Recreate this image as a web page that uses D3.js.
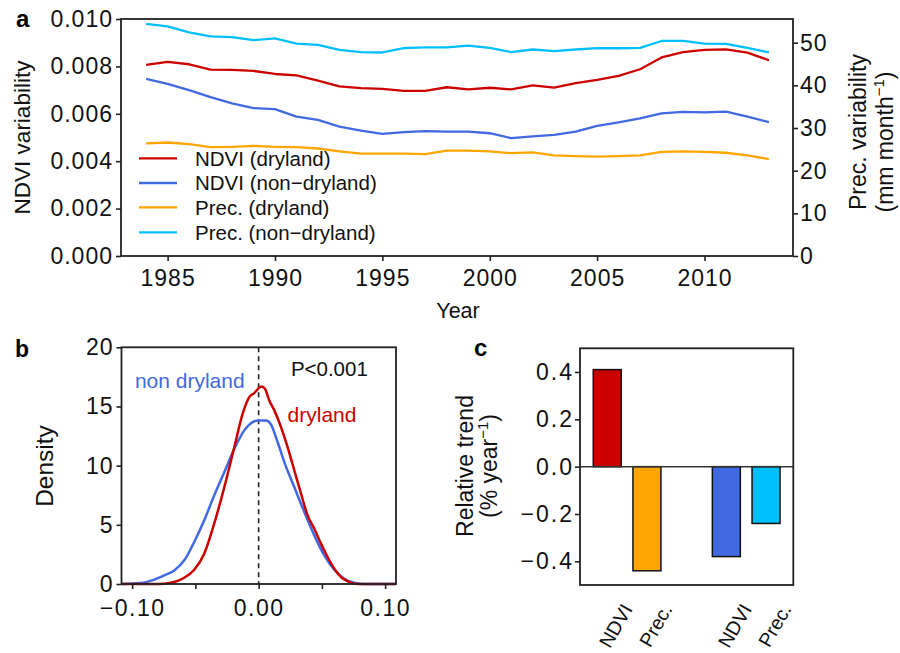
<!DOCTYPE html>
<html>
<head>
<meta charset="utf-8">
<script src="https://cdn.jsdelivr.net/npm/d3@7"></script>
<style>
  html, body { margin: 0; padding: 0; background: #fff; }
  svg { display: block; font-family: "Liberation Sans", Arial, Helvetica, sans-serif; }
  .tick text { fill: #111; }
</style>
</head>
<body>
<svg id="chart" width="900" height="653"></svg>
<script>
// ---------------- DATA ----------------
// Panel a
const years = [1984,1985,1986,1987,1988,1989,1990,1991,1992,1993,1994,1995,1996,1997,1998,1999,2000,2001,2002,2003,2004,2005,2006,2007,2008,2009,2010,2011,2012,2013];
const ndviDryland = [0.00806,0.00819,0.00809,0.00786,0.00785,0.00781,0.00768,0.00762,0.00740,0.00716,0.00708,0.00705,0.00697,0.00697,0.00712,0.00703,0.00710,0.00703,0.00720,0.00710,0.00729,0.00743,0.00760,0.00788,0.00838,0.00860,0.00870,0.00872,0.00858,0.00826];
const ndviNonDryland = [0.00747,0.00726,0.00700,0.00670,0.00644,0.00624,0.00620,0.00588,0.00574,0.00546,0.00529,0.00515,0.00523,0.00527,0.00525,0.00525,0.00518,0.00497,0.00505,0.00511,0.00525,0.00549,0.00564,0.00581,0.00602,0.00608,0.00606,0.00609,0.00588,0.00565];
const precDryland = [26.4,26.6,26.2,25.5,25.6,25.8,25.6,25.5,25.2,24.5,24.0,24.0,24.0,23.9,24.7,24.7,24.5,24.1,24.3,23.6,23.4,23.3,23.4,23.6,24.4,24.5,24.4,24.2,23.6,22.7];
const precNonDryland = [54.4,53.8,52.4,51.5,51.3,50.6,51.0,49.8,49.5,48.3,47.8,47.7,48.7,48.9,48.9,49.3,48.8,47.8,48.4,48.0,48.4,48.7,48.7,48.8,50.4,50.4,49.8,49.7,48.8,47.7];
const legendLabels = ["NDVI (dryland)", "NDVI (non\u2212dryland)", "Prec. (dryland)", "Prec. (non\u2212dryland)"];
const yearTicks = [1985,1990,1995,2000,2005,2010];
const ndviTicks = [0,0.002,0.004,0.006,0.008,0.010];
const precTicks = [0,10,20,30,40,50];

// Panel b (density of trends)
const densNonX = [-0.108,-0.093,-0.0825,-0.0746,-0.0667,-0.0588,-0.0509,-0.043,-0.0351,-0.0271,-0.0192,-0.0113,-0.0047,0.0005,0.0058,0.0097,0.015,0.0203,0.0282,0.0361,0.044,0.0519,0.0598,0.0677,0.0756,0.0835,0.1085];
const densNonY = [0,0.08,0.37,0.73,1.15,2.0,3.55,5.38,7.49,9.46,11.43,12.98,13.68,13.82,13.82,13.49,12.0,10.3,8.19,6.08,4.11,2.42,1.21,0.45,0.11,0,0];
const densDryX = [-0.108,-0.0825,-0.0746,-0.0667,-0.0588,-0.0509,-0.043,-0.0351,-0.0271,-0.0192,-0.0126,-0.0074,-0.0034,-0.0003,0.0024,0.005,0.0084,0.0124,0.0177,0.0229,0.0282,0.0335,0.0387,0.044,0.0493,0.0545,0.0598,0.0651,0.0704,0.0783,0.1085];
const densDryY = [0,0,0.03,0.17,0.53,1.21,2.56,5.1,8.19,11.57,14.39,15.79,16.13,16.5,16.69,16.5,15.51,14.67,13.26,11.57,9.6,7.63,5.8,4.67,3.41,2.28,1.3,0.59,0.23,0,0];
const densXTicks = [-0.10,-0.05,0,0.05,0.10];
const densXLabelled = [-0.10,0,0.10];
const densYTicks = [0,5,10,15,20];

// Panel c (relative trends)
const trendKeys = ["ndviDry","precDry","gap","ndviNon","precNon"];
const trendLabels = ["NDVI","Prec.","","NDVI","Prec."];
const trendValues = [0.41,-0.44,null,-0.38,-0.24];
const trendYTicks = [-0.4,-0.2,0,0.2,0.4];

// ---------------- STYLE ----------------
const C_RED = "#CD0000", C_BLUE = "#4169E1", C_ORANGE = "#FFA500", C_CYAN = "#00BFFF";
const trendColors = [C_RED, C_ORANGE, "none", C_BLUE, C_CYAN];
const FRAME = "#222";
const TICKFONT = 23;

const svg = d3.select("#chart");

function styleAxis(g, ls) {
  g.select(".domain").remove();
  g.selectAll(".tick line").attr("stroke", FRAME).attr("stroke-width", 1.6);
  g.selectAll(".tick text").attr("font-size", TICKFONT).attr("letter-spacing", ls + "px")
    .attr("font-family", "Liberation Sans, Arial, sans-serif");
}
function frame(x0, y0, x1, y1) {
  svg.append("rect").attr("x", x0).attr("y", y0).attr("width", x1 - x0).attr("height", y1 - y0)
    .attr("fill", "none").attr("stroke", FRAME).attr("stroke-width", 1.8);
}
function vtitle(x, y, size) {
  return svg.append("text").attr("transform", `translate(${x},${y}) rotate(-90)`)
    .attr("text-anchor", "middle").attr("font-size", size).attr("fill", "#111");
}

// ---------------- PANEL A ----------------
const A = {l: 121, r: 793, t: 19, b: 256};
const xA = d3.scaleLinear().domain([1982.83, 2014.12]).range([A.l, A.r]);
const yL = d3.scaleLinear().domain([0, 0.010]).range([A.b, A.t]);
const yR = d3.scaleLinear().domain([0, 55.55]).range([A.b, A.t]);

const seriesA = [
  {vals: ndviDryland, scale: yL, color: C_RED},
  {vals: ndviNonDryland, scale: yL, color: C_BLUE},
  {vals: precDryland, scale: yR, color: C_ORANGE},
  {vals: precNonDryland, scale: yR, color: C_CYAN}
];
seriesA.forEach(s => {
  const line = d3.line().x((d, i) => xA(years[i])).y(d => s.scale(d));
  svg.append("path").attr("d", line(s.vals)).attr("fill", "none")
    .attr("stroke", s.color).attr("stroke-width", 2.3).attr("stroke-linejoin", "round");
});

svg.append("g").attr("transform", `translate(${A.l},0)`)
  .call(d3.axisLeft(yL).tickValues(ndviTicks).tickFormat(d3.format(".3f")).tickSize(5).tickPadding(3))
  .call(g => styleAxis(g, 1));
svg.append("g").attr("transform", `translate(${A.r},0)`)
  .call(d3.axisRight(yR).tickValues(precTicks).tickFormat(d3.format("d")).tickSize(5).tickPadding(2))
  .call(g => styleAxis(g, 1));
svg.append("g").attr("transform", `translate(0,${A.b})`)
  .call(d3.axisBottom(xA).tickValues(yearTicks).tickFormat(d3.format("d")).tickSize(5).tickPadding(9))
  .call(g => styleAxis(g, 1));
frame(A.l, A.t, A.r, A.b);

// legend
const legY = [158.3, 183, 207.3, 232.3];
seriesA.forEach((s, i) => {
  svg.append("line").attr("x1", 139).attr("x2", 177).attr("y1", legY[i]).attr("y2", legY[i])
    .attr("stroke", s.color).attr("stroke-width", 2.3);
  svg.append("text").attr("x", 195).attr("y", legY[i]).attr("dy", "0.36em")
    .attr("font-size", 20.5).attr("fill", "#111").text(legendLabels[i]);
});

vtitle(30, 137.5, 22.5).text("NDVI variability");
svg.append("text").attr("x", 458).attr("y", 318).attr("text-anchor", "middle")
  .attr("font-size", 21.5).attr("fill", "#111").text("Year");
vtitle(866, 132, 23).text("Prec. variability");
const t2 = vtitle(893, 142, 23);
t2.append("tspan").text("(mm month");
t2.append("tspan").attr("font-size", 15).attr("dy", -9).text("\u22121");
t2.append("tspan").attr("dy", 9).text(")");

svg.append("text").attr("x", 16).attr("y", 27).attr("font-size", 24).attr("font-weight", "bold").text("a");

// ---------------- PANEL B ----------------
const B = {l: 121.5, r: 396, t: 347.3, b: 584};
const xB = d3.scaleLinear().domain([-0.1084, 0.1086]).range([B.l, B.r]);
const yB = d3.scaleLinear().domain([0, 20]).range([B.b, B.t]);

svg.append("line").attr("x1", xB(0)).attr("x2", xB(0)).attr("y1", B.t).attr("y2", B.b)
  .attr("stroke", "#222").attr("stroke-width", 1.6).attr("stroke-dasharray", "5,4");

const densLine = (xs) => d3.line().x((d, i) => xB(xs[i])).y(d => yB(d)).curve(d3.curveMonotoneX);
svg.append("path").attr("d", densLine(densNonX)(densNonY)).attr("fill", "none")
  .attr("stroke", C_BLUE).attr("stroke-width", 2.5);
svg.append("path").attr("d", densLine(densDryX)(densDryY)).attr("fill", "none")
  .attr("stroke", C_RED).attr("stroke-width", 2.5);

svg.append("g").attr("transform", `translate(${B.l},0)`)
  .call(d3.axisLeft(yB).tickValues(densYTicks).tickFormat(d3.format("d")).tickSize(5).tickPadding(3))
  .call(g => styleAxis(g, 1));
svg.append("g").attr("transform", `translate(0,${B.b})`)
  .call(d3.axisBottom(xB).tickValues(densXTicks)
    .tickFormat(d => densXLabelled.some(v => Math.abs(v - d) < 1e-9) ? d3.format(".2f")(d) : "")
    .tickSize(5).tickPadding(11))
  .call(g => styleAxis(g, 1.5));
frame(B.l, B.t, B.r, B.b);

svg.append("text").attr("x", xB(0.0255)).attr("y", 376.3).attr("font-size", 20.5).attr("fill", "#111").text("P<0.001");
svg.append("text").attr("x", xB(-0.0978)).attr("y", 387.7).attr("font-size", 21).attr("fill", C_BLUE).text("non dryland");
svg.append("text").attr("x", xB(0.0229)).attr("y", 422).attr("font-size", 21).attr("fill", C_RED).text("dryland");

vtitle(53, 466, 24.5).text("Density");
svg.append("text").attr("x", 15).attr("y", 356.5).attr("font-size", 23).attr("font-weight", "bold").text("b");

// ---------------- PANEL C ----------------
const Cp = {l: 580, r: 793.3, t: 348.3, b: 585};
const xC = d3.scaleBand().domain(trendKeys).range([Cp.l, Cp.r]).paddingInner(0.295).paddingOuter(0.334);
const yC = d3.scaleLinear().domain([-0.5, 0.5]).range([Cp.b, Cp.t]);

trendKeys.forEach((k, i) => {
  const v = trendValues[i];
  if (v === null) return;
  svg.append("rect").attr("x", xC(k)).attr("width", xC.bandwidth())
    .attr("y", yC(Math.max(0, v))).attr("height", Math.abs(yC(v) - yC(0)))
    .attr("fill", trendColors[i]).attr("stroke", "#111").attr("stroke-width", 1.5);
});
svg.append("line").attr("x1", Cp.l).attr("x2", Cp.r).attr("y1", yC(0)).attr("y2", yC(0))
  .attr("stroke", "#333").attr("stroke-width", 1.5);

svg.append("g").attr("transform", `translate(${Cp.l},0)`)
  .call(d3.axisLeft(yC).tickValues(trendYTicks).tickFormat(d3.format(".1f")).tickSize(5).tickPadding(1))
  .call(g => styleAxis(g, 2));
frame(Cp.l, Cp.t, Cp.r, Cp.b);

trendKeys.forEach((k, i) => {
  if (!trendLabels[i]) return;
  const ax = xC(k) + xC.bandwidth() / 2 + 26;
  svg.append("text").attr("transform", `translate(${ax},609) rotate(-60)`)
    .attr("text-anchor", "end").attr("font-size", 19.5).attr("fill", "#111").text(trendLabels[i]);
});

vtitle(473, 466, 23).text("Relative trend");
const t3 = vtitle(497, 466, 23);
t3.append("tspan").text("(% year");
t3.append("tspan").attr("font-size", 15).attr("dy", -9).text("\u22121");
t3.append("tspan").attr("dy", 9).text(")");

svg.append("text").attr("x", 474).attr("y", 356).attr("font-size", 24).attr("font-weight", "bold").text("c");
</script>
</body>
</html>
